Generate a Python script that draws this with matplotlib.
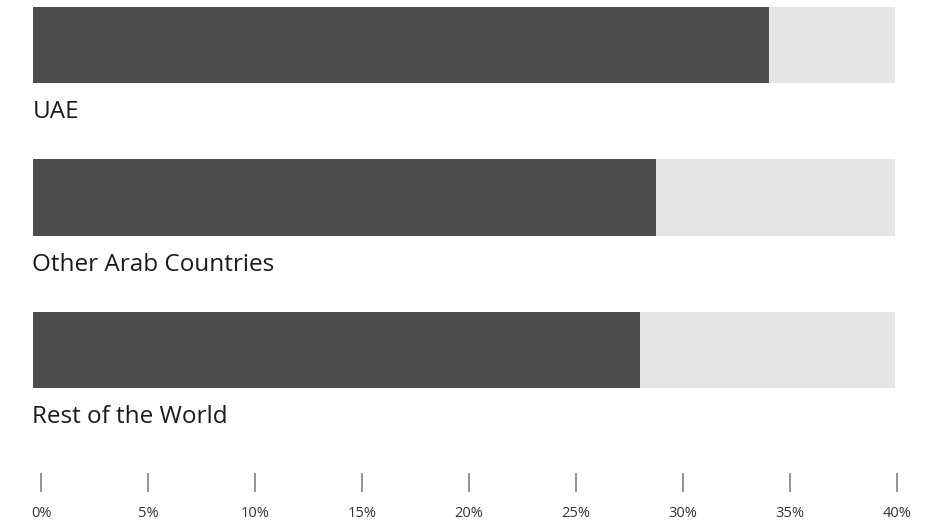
import matplotlib
matplotlib.use("Agg")
import matplotlib.pyplot as plt

# data
regions = ["UAE", "Other Arab Countries", "Rest of the World"]
shares = [34.15, 28.9, 28.15]
scale_max = 40
tick_values = [0, 5, 10, 15, 20, 25, 30, 35, 40]
tick_labels = ["0%", "5%", "10%", "15%", "20%", "25%", "30%", "35%", "40%"]

W, H = 944, 523
fig = plt.figure(figsize=(W / 100, H / 100), dpi=100)
plt.rcParams["font.family"] = ["Open Sans", "DejaVu Sans"]

# main bars axes (pixel box 33..895 wide, 0..440 tall)
ax = fig.add_axes([33 / W, 1 - 440 / H, (895 - 33) / W, 440 / H])
ypos = list(range(len(regions)))
ax.barh(ypos, [scale_max] * len(regions), height=0.5, left=0, color="#e5e5e5")
ax.barh(ypos, shares, height=0.5, left=0, color="#4d4d4d")
for y, name in zip(ypos, regions):
    ax.text(-0.03, y + 0.44, name, fontsize=17.5, color="#1a1a1a", va="center", ha="left")
ax.set_xlim(0, scale_max)
ax.set_ylim(2.59, -0.295)
ax.axis("off")

# scale axes underneath
sx = fig.add_axes([41 / W, 1 - 492 / H, (897 - 41) / W, 0.001])
sx.set_xlim(0, scale_max)
sx.set_xticks(tick_values)
sx.set_xticklabels(tick_labels)
sx.set_yticks([])
for s in sx.spines.values():
    s.set_visible(False)
sx.tick_params(axis="x", direction="in", length=19 * 0.72, width=1.1, color="#777777",
               pad=10, labelsize=10.5, labelcolor="#333333")
sx.patch.set_visible(False)

fig.savefig("out.png", dpi=100)
